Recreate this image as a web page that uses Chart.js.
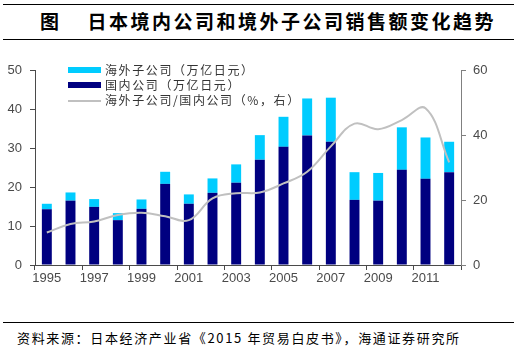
<!DOCTYPE html>
<html>
<head>
<meta charset="utf-8">
<script src="https://cdn.jsdelivr.net/npm/chart.js@4.4.1/dist/chart.umd.min.js"></script>
<style>
  html, body { margin: 0; padding: 0; background: #fff; }
  body { width: 519px; height: 349px; position: relative; overflow: hidden; font-family: "Noto Sans CJK SC", sans-serif; }
  .rule { position: absolute; left: 3px; width: 511px; height: 1px; background: #000; }
  #title { position: absolute; left: 40px; top: 8px; font-size: 19px; font-weight: 700; letter-spacing: 2.5px; line-height: 26px; color: #000; white-space: nowrap; }
  #title .fig { margin-right: 26px; }
  #chartBox { position: absolute; left: 0; top: 40px; width: 519px; height: 280px; }
  #legend { position: absolute; left: 68px; top: 62px; font-size: 12px; letter-spacing: 1.6px; color: #333; }
  #legend .row { position: relative; height: 15px; line-height: 15px; white-space: nowrap; padding-left: 37px; }
  #legend .sw { position: absolute; left: 0; top: 5px; width: 33px; height: 6px; }
  #legend .ln { position: absolute; left: 0; top: 8px; width: 33px; height: 2px; background: #c0c0c0; }
  #source { position: absolute; left: 17px; top: 329px; font-size: 13px; letter-spacing: 1.65px; color: #000; white-space: nowrap; line-height: 18px; }
</style>
</head>
<body>
<div class="rule" style="top:4px"></div>
<div id="title"><span class="fig">图</span>日本境内公司和境外子公司销售额变化趋势</div>
<div class="rule" style="top:39px"></div>

<div id="chartBox"><canvas id="chart"></canvas></div>

<div id="legend">
  <div class="row"><span class="sw" style="background:#00ccff"></span>海外子公司（万亿日元）</div>
  <div class="row"><span class="sw" style="background:#000080"></span>国内公司（万亿日元）</div>
  <div class="row"><span class="ln"></span>海外子公司/国内公司（%，右）</div>
</div>

<div class="rule" style="top:322px"></div>
<div id="source">资料来源：日本经济产业省《2015 年贸易白皮书》，海通证券研究所</div>

<script>
// data
const years = ['1995', '1996', '1997', '1998', '1999', '2000', '2001', '2002', '2003',
               '2004', '2005', '2006', '2007', '2008', '2009', '2010', '2011', '2012'];
const domestic = [14.3, 16.5, 14.9, 11.5, 14.4, 20.8, 15.7, 18.5, 21.1,
                  27.0, 30.3, 33.2, 31.6, 16.7, 16.5, 24.4, 22.1, 23.8];
const overseas = [1.4, 2.1, 2.0, 1.8, 2.4, 3.1, 2.4, 3.7, 4.7,
                  6.3, 7.7, 9.5, 11.3, 7.1, 7.1, 10.9, 10.6, 7.8];
const ratio = [10.0, 12.6, 13.4, 15.4, 16.1, 15.0, 13.8, 20.5, 22.1,
               22.3, 25.1, 28.7, 36.5, 43.5, 41.8, 44.6, 48.2, 31.6];
const leftTicks = [0, 10, 20, 30, 40, 50];
const rightTicks = [0, 20, 40, 60];

const AXIS = '#4a4a4a';
const tickFont = { family: 'Liberation Sans', size: 13 };

new Chart(document.getElementById('chart'), {
    data: {
        labels: years,
        datasets: [
            {
                type: 'line',
                label: '海外子公司/国内公司（%，右）',
                data: ratio,
                yAxisID: 'y1',
                borderColor: '#c0c0c0',
                borderWidth: 2,
                pointRadius: 0,
                tension: 0.4,
                order: 0
            },
            {
                type: 'bar',
                label: '国内公司（万亿日元）',
                data: domestic,
                backgroundColor: '#000080',
                stack: 's',
                barPercentage: 0.42,
                categoryPercentage: 1,
                order: 1
            },
            {
                type: 'bar',
                label: '海外子公司（万亿日元）',
                data: overseas,
                backgroundColor: '#00ccff',
                stack: 's',
                barPercentage: 0.42,
                categoryPercentage: 1,
                order: 1
            }
        ]
    },
    options: {
        responsive: true,
        maintainAspectRatio: false,
        animation: false,
        layout: { padding: { top: 30, left: 0, right: 0, bottom: 0 } },
        plugins: {
            legend: { display: false },
            tooltip: { enabled: false }
        },
        scales: {
            x: {
                stacked: true,
                offset: true,
                grid: {
                    offset: true,
                    drawOnChartArea: false,
                    tickLength: 5,
                    tickColor: (c) => (c.index === undefined || c.index % 2 === 0) ? AXIS : 'rgba(0,0,0,0)'
                },
                border: { color: AXIS },
                ticks: {
                    autoSkip: false,
                    maxRotation: 0,
                    padding: 1,
                    color: AXIS,
                    font: tickFont,
                    callback: (v, i) => i % 2 === 0 ? years[i] : ''
                },
                afterFit(s) { s.height = 55; }
            },
            y: {
                stacked: true,
                position: 'left',
                min: leftTicks[0],
                max: leftTicks[leftTicks.length - 1],
                ticks: { stepSize: 10, color: AXIS, font: tickFont, padding: 8 },
                grid: { drawOnChartArea: false, tickLength: 5, tickColor: AXIS },
                border: { color: AXIS },
                afterFit(s) { s.width = 35; }
            },
            y1: {
                position: 'right',
                min: rightTicks[0],
                max: rightTicks[rightTicks.length - 1],
                ticks: { stepSize: 20, color: AXIS, font: tickFont, padding: 7 },
                grid: { drawOnChartArea: false, tickLength: 5, tickColor: '#808080' },
                border: { color: '#808080' },
                afterFit(s) { s.width = 58; }
            }
        }
    }
});
</script>
</body>
</html>
